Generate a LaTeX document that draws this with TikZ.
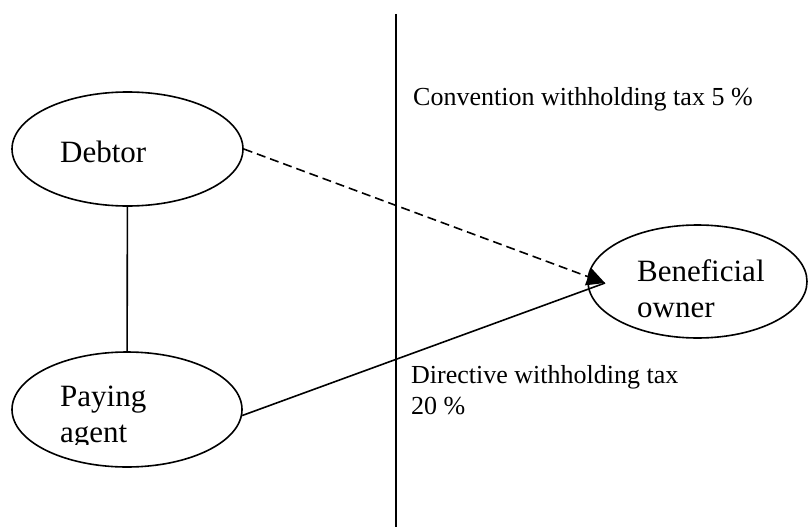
\documentclass[tikz,border=0pt]{standalone}
\usepackage{fontspec}
\setmainfont{Liberation Serif}
\usetikzlibrary{shapes.geometric,arrows.meta}
\tikzset{
  party/.style={draw, ellipse, line width=1.6pt, inner sep=0pt},
  bigtext/.style={font=\fontsize{31}{36}\selectfont, align=left, anchor=base west, inner sep=0pt},
  smalltext/.style={font=\fontsize{26}{31}\selectfont, align=left, anchor=base west, inner sep=0pt},
  link/.style={line width=1.6pt}
}
\begin{document}
\begin{tikzpicture}[x=1pt,y=-1pt]
    \useasboundingbox (0,0) rectangle (810,527);
    \node[party, minimum width=231pt, minimum height=114pt] (debtor) at (127.5,149) {};
    \node[party, minimum width=230pt, minimum height=115pt] (agent) at (127,409.5) {};
    \node[party, minimum width=219pt, minimum height=113pt] (owner) at (697.5,281.5) {};
    \node[bigtext] (debtortext) at (60,162) {Debtor};
    \begin{scope}
        \clip (0,0) rectangle (810,444);
        \node[bigtext] (agenttext) at (60,442) {Paying\\agent};
    \end{scope}
    \node[bigtext] (ownertext) at (637,317) {Beneficial\\owner};
    \node[smalltext] (convention) at (413,105) {Convention withholding tax 5 \%};
    \node[smalltext] (directive) at (411,414) {Directive withholding tax\\20 \%};
    \coordinate (top) at (396,14);
    \coordinate (bottom) at (396,527);
    \coordinate (tip) at (605,283);
    \draw[link] (top) -- (bottom);
    \draw[link] (debtor) -- (agent);
    \draw[link] (agent.-3) -- (tip);
    \draw[link, dash pattern=on 9pt off 5pt, -{Triangle[length=18pt,width=18pt]}] (debtor.east) -- (tip);
\end{tikzpicture}
\end{document}
